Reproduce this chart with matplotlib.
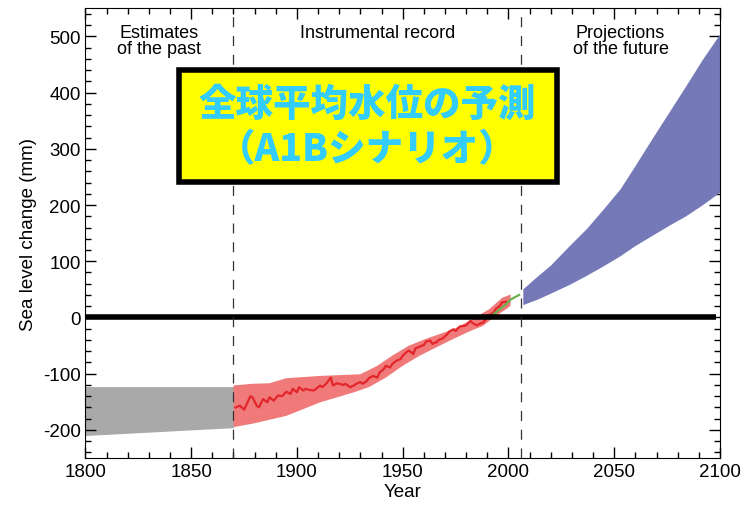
import matplotlib
matplotlib.use("Agg")
import matplotlib.pyplot as plt
from matplotlib.patches import Rectangle
from matplotlib.ticker import MultipleLocator

# estimates of the past (grey band)
past_years = [1800, 1870]
past_upper = [-123, -123]
past_lower = [-210, -196]

# instrumental record band (red)
band_up_years = [1870, 1879, 1887, 1895, 1911, 1930, 1938, 1945, 1953, 1961, 1974, 1983, 1991, 1997, 2001]
band_up_vals = [-121, -118, -117, -108, -104, -101, -86, -68, -50, -38, -21, -3, 15, 35, 41]
band_lo_years = [1870, 1879, 1895, 1911, 1927, 1934, 1942, 1950, 1958, 1966, 1974, 1982, 1988, 1993, 1999, 2001]
band_lo_vals = [-195, -189, -175, -151, -133, -124, -107, -86, -68, -53, -38, -24, -15, 0, 15, 21]

# tide gauge reconstruction (red line)
tide_years = [1871, 1873, 1875, 1878, 1879, 1881, 1882, 1884, 1886, 1887, 1889, 1891, 1893, 1895,
              1897, 1898, 1900, 1901, 1903, 1904, 1906, 1908, 1911, 1912, 1914, 1916, 1917, 1919,
              1922, 1923, 1925, 1927, 1928, 1930, 1931, 1933, 1934, 1936, 1938, 1939, 1941, 1942,
              1944, 1945, 1947, 1949, 1950, 1952, 1953, 1955, 1956, 1958, 1960, 1961, 1963, 1964,
              1966, 1967, 1969, 1971, 1972, 1974, 1975, 1977, 1979, 1980, 1982, 1983, 1985, 1986,
              1988, 1990, 1991, 1993, 1994, 1996, 1997, 1999]
tide_vals = [-160, -157, -164, -140, -142, -157, -160, -145, -151, -142, -148, -139, -140, -132,
             -136, -127, -133, -124, -130, -127, -129, -130, -121, -124, -117, -107, -121, -117,
             -120, -118, -124, -121, -118, -115, -118, -113, -108, -104, -107, -98, -92, -86,
             -89, -83, -77, -74, -68, -61, -59, -65, -55, -52, -49, -43, -41, -47,
             -44, -40, -37, -30, -25, -21, -24, -16, -15, -14, -6, -10, -14, -12,
             -9, 0, 4, 9, 15, 21, 27, 28]

# satellite altimetry (green line)
sat_years = [1993, 1996, 1999, 2001, 2002, 2004, 2005]
sat_vals = [6, 15, 24, 32, 34, 38, 40]

# projections A1B (blue band)
proj_up_years = [2007, 2013, 2020, 2029, 2037, 2045, 2053, 2060, 2068, 2076, 2084, 2092, 2100]
proj_up_vals = [50, 70, 92, 127, 157, 192, 228, 269, 317, 364, 411, 459, 503]
proj_lo_years = [2007, 2014, 2021, 2029, 2037, 2045, 2053, 2060, 2068, 2076, 2084, 2092, 2100]
proj_lo_vals = [22, 32, 44, 58, 74, 91, 109, 127, 145, 163, 180, 200, 222]

divider_years = [1870, 2006]

plt.rcParams["font.family"] = ["Liberation Sans", "DejaVu Sans"]
plt.rcParams["axes.unicode_minus"] = False

fig = plt.figure(figsize=(7.44, 5.06), dpi=100)
ax = fig.add_axes([0.1148, 0.0929, 0.853, 0.8887])

ax.fill_between(past_years, past_lower, past_upper, color="#a9a9a9", lw=0, zorder=1)

# red band as polygon: upper edge then lower edge reversed
poly_x = band_up_years + band_lo_years[::-1]
poly_y = band_up_vals + band_lo_vals[::-1]
ax.fill(poly_x, poly_y, color="#f07a7a", lw=0, zorder=2)
ax.plot(tide_years, tide_vals, color="#e3262b", lw=1.6, zorder=3)
ax.plot(sat_years, sat_vals, color="#6ab04c", lw=1.6, zorder=4)

proj_x = proj_up_years + proj_lo_years[::-1]
proj_y = proj_up_vals + proj_lo_vals[::-1]
ax.fill(proj_x, proj_y, color="#7579b8", lw=0, zorder=2)

ax.hlines(0, 1800, 2098, color="black", lw=4, zorder=5)
for yr in divider_years:
    ax.axvline(yr, color="#333333", lw=0.9, ls=(0, (8, 7)), zorder=6)

ax.set_xlim(1800, 2100)
ax.set_ylim(-250, 550)
ax.xaxis.set_major_locator(MultipleLocator(50))
ax.xaxis.set_minor_locator(MultipleLocator(10))
ax.yaxis.set_major_locator(MultipleLocator(100))
ax.yaxis.set_minor_locator(MultipleLocator(20))
ax.tick_params(which="both", direction="in", top=True, right=True, labelsize=13.5)
ax.tick_params(which="major", length=8, width=1)
ax.tick_params(which="minor", length=4, width=1)
ax.set_xlabel("Year", fontsize=13.5, labelpad=2)
ax.set_ylabel("Sea level change (mm)", fontsize=13.5, labelpad=4)

ax.text(1835, 522, "Estimates\nof the past", ha="center", va="top", fontsize=13, linespacing=0.95)
ax.text(1938, 522, "Instrumental record", ha="center", va="top", fontsize=13)
ax.text(2053, 522, "Projections\nof the future", ha="center", va="top", fontsize=13, linespacing=0.95)

# title box
box = Rectangle((0.240, 0.638), 0.509, 0.222, transform=fig.transFigure,
                facecolor="#ffff00", edgecolor="black", lw=4, zorder=10)
fig.patches.append(box)
jp = ["Noto Sans CJK JP", "DejaVu Sans"]
fig.text(0.494, 0.792, "全球平均水位の予測", ha="center", va="center", fontsize=27,
         color="#33ccff", family=jp, weight="black", zorder=11)
fig.text(0.494, 0.703, "（A1Bシナリオ）", ha="center", va="center", fontsize=27,
         color="#33ccff", family=jp, weight="black", zorder=11)

fig.savefig("out.png", dpi=100)
